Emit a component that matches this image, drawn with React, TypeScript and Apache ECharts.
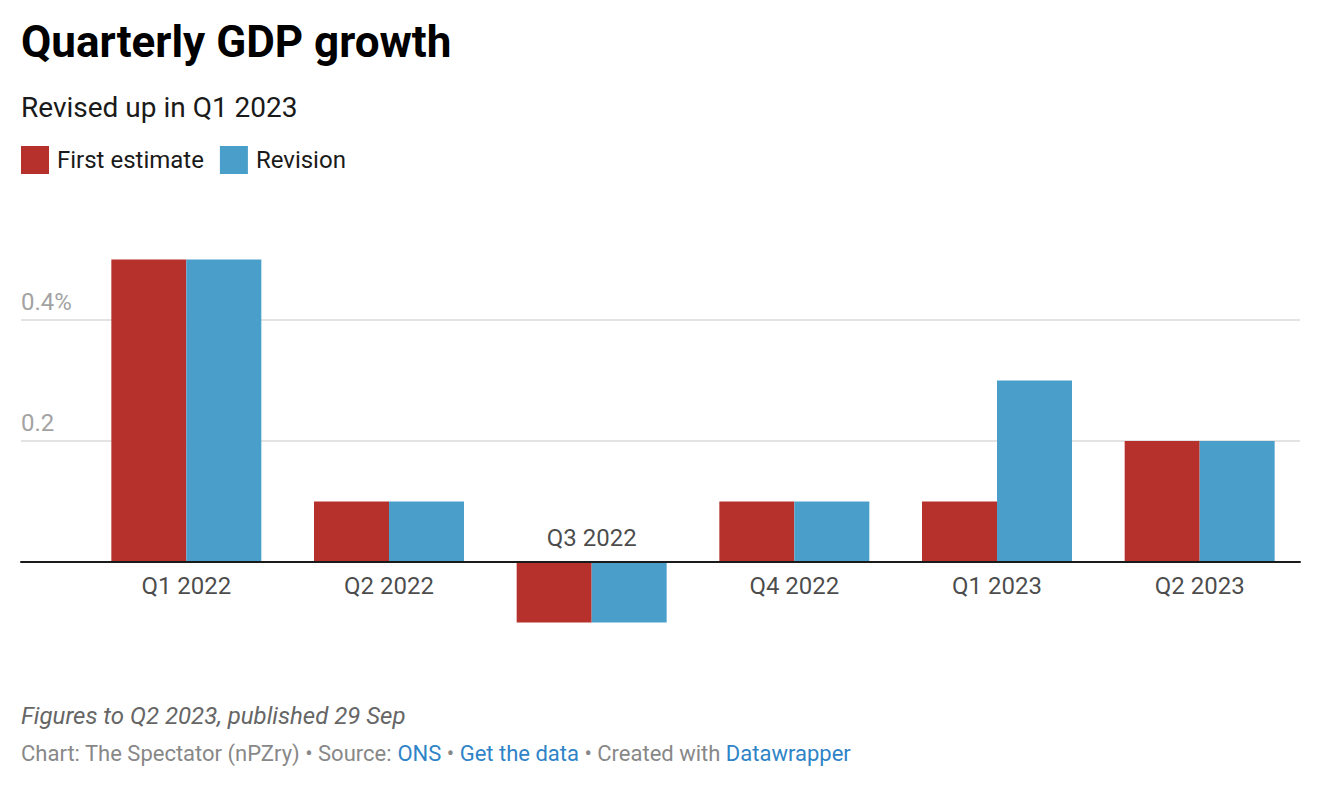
import React, { useEffect, useRef } from "react";
import * as echarts from "echarts";

const categories = ["Q1 2022", "Q2 2022", "Q3 2022", "Q4 2022", "Q1 2023", "Q2 2023"];
const firstEstimate = [0.5, 0.1, -0.1, 0.1, 0.1, 0.2];
const revision = [0.5, 0.1, -0.1, 0.1, 0.3, 0.2];
const yTickLabels: Record<string, string> = { "0.2": "0.2", "0.4": "0.4%" };

const RED = "#b7312c";
const BLUE = "#4a9fca";
const FONT = "Roboto";

export default function App() {
  const ref = useRef<HTMLDivElement>(null);
  useEffect(() => {
    if (!ref.current) return;
    const chart = echarts.init(ref.current, null, { renderer: "svg" });
    const yMin = -0.2, yMax = 0.6, yInt = 0.2;
    chart.setOption({
      animation: false,
      backgroundColor: "#ffffff",
      textStyle: { fontFamily: FONT },
      legend: {
        left: 21,
        top: 146,
        padding: 0,
        itemWidth: 28,
        itemHeight: 28,
        itemGap: 16,
        icon: "rect",
        selectedMode: false,
        textStyle: { fontFamily: FONT, fontSize: 24, color: "#1a1a1a", padding: [0, 0, 0, 3] },
        data: ["First estimate", "Revision"],
      },
      grid: [
        { left: 21, right: 22, top: 199, bottom: 105 },
        { left: 85, right: 21, top: 199, bottom: 105 },
      ],
      xAxis: [
        {
          gridIndex: 0, type: "value", min: 0, max: 1,
          axisLine: { show: true, onZero: true, lineStyle: { color: "#1a1a1a", width: 2 } },
          axisTick: { show: false }, axisLabel: { show: false }, splitLine: { show: false },
          z: 10,
        },
        {
          gridIndex: 1, type: "category", data: categories,
          axisLine: { show: false }, axisTick: { show: false }, axisLabel: { show: false },
          splitLine: { show: false },
        },
      ],
      yAxis: [
        {
          gridIndex: 0, type: "value", min: yMin, max: yMax, interval: yInt,
          axisLine: { show: false }, axisTick: { show: false },
          splitLine: { show: true, showMinLine: false, showMaxLine: false, lineStyle: { color: "#e3e3e3", width: 2 } },
          axisLabel: {
            inside: true, margin: 0, verticalAlign: "bottom", align: "left",
            fontFamily: FONT, fontSize: 24, color: "#a3a3a3", padding: [0, 0, 6, 0],
            formatter: (v: number) => yTickLabels[(Math.round(v * 10) / 10).toFixed(1)] || "",
          },
        },
        {
          gridIndex: 1, type: "value", min: yMin, max: yMax, interval: yInt, show: false,
          splitLine: { show: false },
        },
      ],
      series: [
        {
          name: "First estimate", type: "bar", xAxisIndex: 1, yAxisIndex: 1,
          data: firstEstimate, barWidth: 75, barGap: "0%", itemStyle: { color: RED },
        },
        {
          name: "Revision", type: "bar", xAxisIndex: 1, yAxisIndex: 1,
          data: revision, barWidth: 75, barGap: "0%", itemStyle: { color: BLUE },
        },
        {
          name: "labels", type: "scatter", xAxisIndex: 1, yAxisIndex: 1,
          symbolSize: 0, silent: true,
          data: categories.map((c, i) => ({
            value: 0,
            label: { position: Math.min(firstEstimate[i], revision[i]) < 0 ? "top" : "bottom" },
          })),
          label: {
            show: true, distance: 12, fontFamily: FONT, fontSize: 24, color: "#1a1a1a",
            lineHeight: 24,
            formatter: (p: any) => categories[p.dataIndex],
          },
        },
      ],
      graphic: [
        {
          type: "text", left: 21, top: 20,
          style: { text: "Quarterly GDP growth", fontFamily: FONT, fontWeight: "bold", fontSize: 44, fill: "#000" },
        },
        {
          type: "text", left: 21, top: 93,
          style: { text: "Revised up in Q1 2023", fontFamily: FONT, fontSize: 28, fill: "#1a1a1a" },
        },
        {
          type: "text", left: 21, top: 704,
          style: { text: "Figures to Q2 2023, published 29 Sep", fontFamily: FONT, fontStyle: "italic", fontSize: 24, fill: "#666666" },
        },
        {
          type: "text", left: 21, top: 742,
          style: {
            text: "{g|Chart: The Spectator (nPZry) • Source: }{b|ONS}{g| • }{b|Get the data}{g| • Created with }{b|Datawrapper}",
            fontFamily: FONT, fontSize: 22,
            rich: {
              g: { fontFamily: FONT, fontSize: 22, fill: "#888888" },
              b: { fontFamily: FONT, fontSize: 22, fill: "#2f84c7" },
            },
          },
        },
      ],
    });
    return () => chart.dispose();
  }, []);
  return <div ref={ref} style={{ position: "fixed", left: 0, top: 0, width: 1322, height: 788 }} />;
}
